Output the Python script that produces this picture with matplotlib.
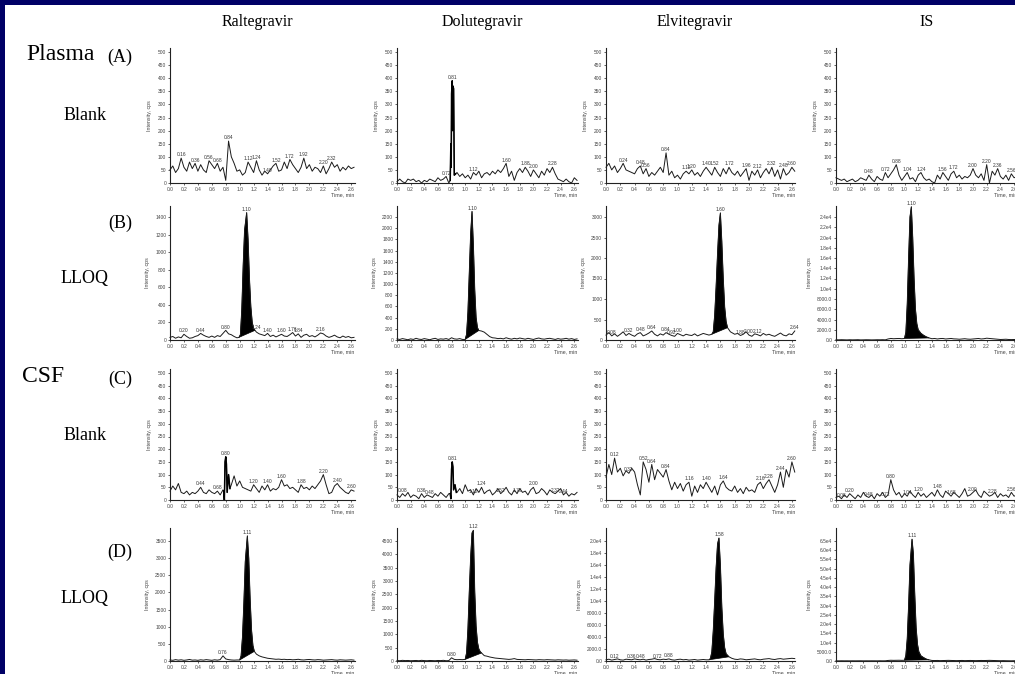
import numpy as np
import matplotlib
matplotlib.use("Agg")
import matplotlib.pyplot as plt
from matplotlib.patches import Rectangle

# ---------------- data ----------------
compounds = ["Raltegravir", "Dolutegravir", "Elvitegravir", "IS"]
row_codes = ["(A)", "(B)", "(C)", "(D)"]
row_samples = ["Blank", "LLOQ", "Blank", "LLOQ"]
matrices = ["Plasma", "CSF"]

grid_t = np.round(np.arange(0, 2.65, 0.04), 2)   # sampling times, min
x_ticks = [0.0, 0.2, 0.4, 0.6, 0.8, 1.0, 1.2, 1.4, 1.6, 1.8, 2.0, 2.2, 2.4, 2.6]

# Row A: plasma blank
A1_y = [50,65,40,55,95,60,45,80,55,75, 45,70,50,40,85,70,55,75,45,60,
        10,160,100,75,45,50,30,40,80,60, 40,85,50,30,45,35,50,65,75,45,
        50,80,55,90,70,55,40,60,95,55, 70,45,60,55,40,65,35,55,80,60,
        70,45,60,50,65,55,60]
A1_lab = [0.16, 0.36, 0.56, 0.68, 0.84, 1.12, 1.24, 1.40, 1.52, 1.72, 1.92, 2.20, 2.32]

A2_y = [5,15,5,0,15,10,15,5,10,0, 10,5,15,10,5,20,10,15,25,0,
        340,40,
        40,25,35,20,30,15,40,30, 45,20,35,40,30,45,35,50,40,55,
        75,25,45,10,40,55,40,60,45,25, 50,35,20,45,30,55,40,60,35,15,
        10,5,15,5,0,20,10]
A2_pk_t = [0.78, 0.79, 0.795, 0.80, 0.81, 0.815, 0.82, 0.83, 0.84, 0.86]
A2_pk_y = [10, 150, 60, 340, 390, 200, 370, 360, 30, 35]
A2_lab = [0.72, 0.81, 1.12, 1.60, 1.88, 2.00, 2.28]

A3_y = [60,75,50,65,40,55,75,50,45,40, 35,55,65,35,55,25,40,30,45,60,
        40,115,30,45,20,30,15,35,45,35, 50,30,40,25,45,60,45,30,60,40,
        25,55,35,60,40,30,45,25,40,55, 10,45,30,50,20,40,55,35,60,25,
        50,15,55,30,40,60,45]
A3_lab = [0.24, 0.48, 0.56, 0.84, 1.12, 1.20, 1.40, 1.52, 1.72, 1.96, 2.12, 2.32, 2.48, 2.60]

A4_y = [20,15,10,15,5,10,15,5,10,20, 15,10,30,15,5,25,15,10,40,20,
        35,50,70,30,10,25,40,15,20,5, 30,40,20,10,15,5,0,30,15,40,
        25,10,35,45,20,30,15,25,20,30, 55,30,20,35,10,70,0,45,30,55,
        25,15,30,10,35,20,25]
A4_lab = [0.48, 0.72, 0.88, 1.04, 1.24, 1.56, 1.72, 2.00, 2.20, 2.36, 2.56]

# Row B: plasma LLOQ
B1_y = [30,40,20,35,25,65,40,20,25,40, 50,75,55,40,30,45,30,50,40,75,
        110,70,60,40,25,
        30,900,1400,700,180,100,
        90,70,60,50,75,40,55,35,50,65, 45,40,60,85,45,70,30,55,65,40,
        50,35,55,80,70,45,30,40,55,35, 25,45,30,40,25,30]
B1_pk_t = [0.99, 1.01, 1.03, 1.05, 1.07, 1.10, 1.12, 1.14, 1.16, 1.18, 1.20, 1.22]
B1_pk_y = [30, 60, 350, 850, 1250, 1450, 1150, 700, 380, 200, 130, 110]
B1_lab = [0.20, 0.44, 0.80, 1.10, 1.24, 1.40, 1.60, 1.76, 1.84, 2.16]

B2_y = [20,10,25,15,5,20,10,30,15,10, 25,15,5,20,30,10,20,15,25,10,
        40,20,15,25,10,
        10,500,2300,900,220,170,160,140,100,60,40,
        35,25,30,20,40,25,15,30,20,35, 25,15,30,20,10,25,35,20,15,25,
        30,20,10,25,15,20,30,15,25,10,20]
B2_pk_t = [1.00, 1.02, 1.04, 1.06, 1.08, 1.10, 1.12, 1.14, 1.16, 1.18, 1.20, 1.24, 1.28, 1.32, 1.36, 1.40]
B2_pk_y = [10, 100, 500, 1200, 1900, 2300, 1700, 900, 400, 220, 170, 160, 140, 100, 60, 40]
B2_lab = [1.10]

B3_y = [120,180,100,150,90,140,200,110,160,120, 90,150,180,100,130,170,220,140,100,150,
        120,180,140,110,90,160,130,100,140,120, 110,150,100,130,160,140,120,
        150,1500,3000,1500,600,300,200,150,140,
        160,110,140,200,120,90,150,130,100,160, 120,140,110,90,130,170,120,100,150,130,220]
B3_pk_t = [1.48, 1.50, 1.52, 1.54, 1.56, 1.58, 1.60, 1.62, 1.64, 1.66, 1.68, 1.70, 1.74, 1.78]
B3_pk_y = [140, 200, 600, 1300, 2100, 2800, 3100, 2400, 1500, 800, 450, 300, 200, 160]
B3_lab = [0.08, 0.32, 0.48, 0.64, 0.84, 0.92, 1.00, 1.60, 1.88, 2.00, 2.12, 2.64]

B4_y = [50,30,60,40,20,50,30,40,60,20, 30,50,40,20,30,50,40,60,30,200,
        300,250,280,300,250,
        300,8000,26000,9000,3000,1500,900,600,400,300,
        250,300,200,280,300,200,250,300,220,200, 150,200,250,180,150,200,250,300,200,250,
        350,300,250,200,150,100,120,150,100,80,100,60]
B4_pk_t = [1.00, 1.02, 1.04, 1.06, 1.08, 1.10, 1.12, 1.14, 1.16, 1.18, 1.20, 1.24, 1.28, 1.32, 1.36]
B4_pk_y = [300, 1500, 7000, 16000, 24000, 26000, 20000, 12000, 6000, 3200, 2000, 1300, 900, 600, 400]
B4_lab = [1.10]

# Row C: CSF blank
C1_y = [35,55,40,65,30,25,35,20,30,25, 35,50,30,25,40,30,25,35,20,40,
        170,100,
        60,95,55,75,50,45,40,35,60,45, 30,55,40,60,35,45,40,50,80,55,
        60,45,50,40,30,60,45,50,40,55, 45,60,75,100,60,25,30,55,65,50,
        40,30,25,40,35]
C1_pk_t = [0.77, 0.78, 0.79, 0.80, 0.81, 0.82, 0.84, 0.86]
C1_pk_y = [35, 0, 150, 170, 140, 30, 100, 45]
C1_lab = [0.44, 0.68, 0.80, 1.20, 1.40, 1.60, 1.88, 2.20, 2.40, 2.60]

C2_y = [20,10,25,15,30,10,20,15,5,25, 10,20,15,10,25,15,30,20,10,25,
        150,40,
        30,45,25,60,35,40,20,45,30,50, 25,35,40,20,30,45,25,35,50,30,
        20,40,25,45,30,35,20,40,50,25, 30,45,35,20,40,30,25,35,45,20,
        30,15,25,20,30]
C2_pk_t = [0.78, 0.79, 0.80, 0.81, 0.82, 0.83, 0.85, 0.87]
C2_pk_y = [25, 5, 120, 150, 130, 40, 60, 30]
C2_lab = [0.08, 0.36, 0.48, 0.81, 1.12, 1.24, 1.52, 1.76, 2.00, 2.32, 2.44]

C3_y = [90,140,100,165,110,125,95,115,105,125, 110,60,20,150,120,70,140,80,120,105,
        90,120,75,40,70,45,65,35,60,70, 15,55,30,60,45,70,50,30,55,20,
        60,75,50,40,35,55,30,45,25,50, 35,40,30,60,70,45,65,80,55,30,
        60,110,50,120,90,150,110]
C3_lab = [0.12, 0.32, 0.52, 0.64, 0.84, 1.16, 1.40, 1.64, 2.16, 2.28, 2.44, 2.60]

C4_y = [10,15,5,20,10,25,15,5,20,10, 30,15,10,20,5,25,15,30,10,20,
        80,40,
        20,30,10,25,15,35,20,10, 30,15,25,10,20,30,15,40,20,10,
        35,25,15,30,20,10,25,45,15,20, 30,40,20,10,35,25,15,20,30,10,
        25,15,20,10,30,15,20]
C4_lab = [0.08, 0.20, 0.48, 0.72, 0.80, 1.04, 1.20, 1.48, 1.68, 2.00, 2.28, 2.56]

# Row D: CSF LLOQ
D1_y = [30,20,40,25,35,20,30,45,25,30, 20,35,25,40,30,20,35,25,40,150,
        60,40,30,25,30,
        30,1500,3700,1500,500,300,200,150,
        120,100,80,70,60,50,55,45,50,40, 45,35,40,50,35,30,40,45,35,30,
        40,35,25,30,35,40,30,25,35,30, 25,30,35,25]
D1_pk_t = [1.00, 1.02, 1.04, 1.06, 1.08, 1.11, 1.13, 1.15, 1.17, 1.19, 1.21, 1.24, 1.28]
D1_pk_y = [30, 150, 700, 1700, 2900, 3650, 3000, 1800, 900, 450, 280, 200, 150]
D1_lab = [0.76, 1.11]

D2_y = [20,10,25,15,20,10,15,20,10,25, 15,10,20,15,10,20,15,25,10,15,
        120,60,50,55,50,
        60,2500,4900,2000,600,300,250,200,
        180,150,130,110,100,90,80,70,60,70, 90,60,55,50,45,55,50,45,40,50,
        45,40,50,45,40,35,45,40,35,40, 30,35,40,30]
D2_pk_t = [1.00, 1.02, 1.04, 1.06, 1.08, 1.10, 1.12, 1.14, 1.16, 1.18, 1.20, 1.22, 1.24, 1.28]
D2_pk_y = [60, 300, 1200, 2600, 3900, 4800, 4900, 2600, 1300, 700, 450, 350, 300, 200]
D2_lab = [0.80, 1.12]

D3_y = [200,300,150,250,350,200,150,300,250,200, 350,250,200,300,150,250,300,400,250,200,
        300,250,350,200,150,250,300,200,250,150, 200,250,150,200,250,200,
        200,3000,20000,6000,1500,800,500,400,350,
        300,250,350,300,200,250,300,350,250,200, 300,350,400,300,250,350,400,300,350,400,450,400]
D3_pk_t = [1.44, 1.46, 1.48, 1.50, 1.52, 1.54, 1.56, 1.58, 1.60, 1.62, 1.64, 1.66, 1.68, 1.72, 1.76]
D3_pk_y = [200, 400, 1500, 5000, 10000, 15500, 19500, 20500, 16000, 9000, 4500, 2200, 1200, 700, 450]
D3_lab = [0.12, 0.36, 0.48, 0.72, 0.88, 1.58]

D4_y = [100,80,120,90,100,80,110,90,100,120, 80,100,90,110,100,80,120,90,100,300,
        400,350,380,400,350,
        400,12000,66000,18000,5000,2800,1800,1000,600,400,
        300,250,300,200,250,300,350,300,250,200, 250,300,200,250,300,250,200,250,300,250,
        300,350,300,250,200,150,200,150,120,100,150,100]
D4_pk_t = [1.00, 1.02, 1.04, 1.06, 1.08, 1.11, 1.13, 1.15, 1.17, 1.19, 1.21, 1.24, 1.28, 1.32, 1.36]
D4_pk_y = [400, 3000, 12000, 30000, 52000, 66000, 58000, 36000, 18000, 9000, 5000, 2800, 1800, 1000, 600]
D4_lab = [1.11]

# y-axis: (top tick value, tick step, label style)
y_axes = {
    (0, 0): (500, 50, "int"), (0, 1): (500, 50, "int"), (0, 2): (500, 50, "int"), (0, 3): (500, 50, "int"),
    (1, 0): (1400, 200, "int"), (1, 1): (2200, 200, "int"), (1, 2): (3000, 500, "int"), (1, 3): (24000, 2000, "sci"),
    (2, 0): (500, 50, "int"), (2, 1): (500, 50, "int"), (2, 2): (500, 50, "int"), (2, 3): (500, 50, "int"),
    (3, 0): (3500, 500, "int"), (3, 1): (4500, 500, "int"), (3, 2): (20000, 2000, "sci"), (3, 3): (65000, 5000, "sci"),
}

panels = {
    (0, 0): (A1_y, None, None, None, A1_lab),
    (0, 1): (A2_y, A2_pk_t, A2_pk_y, None, A2_lab),
    (0, 2): (A3_y, None, None, None, A3_lab),
    (0, 3): (A4_y, None, None, None, A4_lab),
    (1, 0): (B1_y, B1_pk_t, B1_pk_y, 1.22, B1_lab),
    (1, 1): (B2_y, B2_pk_t, B2_pk_y, 1.20, B2_lab),
    (1, 2): (B3_y, B3_pk_t, B3_pk_y, 1.70, B3_lab),
    (1, 3): (B4_y, B4_pk_t, B4_pk_y, 1.36, B4_lab),
    (2, 0): (C1_y, C1_pk_t, C1_pk_y, None, C1_lab),
    (2, 1): (C2_y, C2_pk_t, C2_pk_y, None, C2_lab),
    (2, 2): (C3_y, None, None, None, C3_lab),
    (2, 3): (C4_y, None, None, None, C4_lab),
    (3, 0): (D1_y, D1_pk_t, D1_pk_y, 1.21, D1_lab),
    (3, 1): (D2_y, D2_pk_t, D2_pk_y, 1.24, D2_lab),
    (3, 2): (D3_y, D3_pk_t, D3_pk_y, 1.72, D3_lab),
    (3, 3): (D4_y, D4_pk_t, D4_pk_y, 1.36, D4_lab),
}

# ---------------- layout (pixels) ----------------
W, H = 1015, 674
col_left = [170, 397, 606, 836]
col_ppm = [69.7, 68.2, 71.5, 68.5]
XMAX = 2.65
row_zero = [183, 340, 500, 661]
row_ttick = [52, 217, 373, 541]
row_top = [48, 206, 369, 528]

NAVY = "#000066"
TICK_FONT = "Liberation Sans"
SERIF = "Liberation Serif"
TS = 3.5


def build(base, pk_t, pk_y):
    t = grid_t.copy()
    y = np.asarray(base, float)
    if pk_t is not None:
        m = (t < pk_t[0]) | (t > pk_t[-1])
        t = np.concatenate([t[m], pk_t])
        y = np.concatenate([y[m], pk_y])
        o = np.argsort(t, kind="stable")
        t, y = t[o], y[o]
    return t, y


def ylab(v, style):
    if style == "sci" and v >= 10000:
        return "%.1fe4" % (v / 1e4)
    if style == "sci":
        return "%.1f" % v
    return "%d" % v


fig = plt.figure(figsize=(W / 100, H / 100), dpi=100, facecolor=NAVY)
fig.patches.append(Rectangle((5 / W, 0), 1, 1 - 5 / H, transform=fig.transFigure,
                             facecolor="white", edgecolor="none", zorder=-10))

for (r, c), (base, pk_t, pk_y, fill_end, labs) in panels.items():
    left = col_left[c] / W
    width = XMAX * col_ppm[c] / W
    bottom = 1 - row_zero[r] / H
    height = (row_zero[r] - row_top[r]) / H
    ax = fig.add_axes([left, bottom, width, height])
    ax.set_facecolor("none")
    top_tick, step, style = y_axes[(r, c)]
    ytop = top_tick * (row_zero[r] - row_top[r]) / (row_zero[r] - row_ttick[r])
    ax.set_xlim(0, XMAX)
    ax.set_ylim(0, ytop)

    t, y = build(base, pk_t, pk_y)
    ax.plot(t, y, color="#1a1a1a", lw=0.7, clip_on=False)
    if pk_t is not None and fill_end is not None:
        pt = np.asarray(pk_t)
        py = np.asarray(pk_y)
        sel = pt <= fill_end + 1e-9
        ax.fill(pt[sel], py[sel], color="black", lw=0.5, ec="black")
    elif pk_t is not None:
        ax.plot(pk_t, pk_y, color="black", lw=1.1)

    for lt in labs:
        near = np.abs(t - lt) <= 0.025
        yy = y[near].max() if near.any() else y[np.argmin(np.abs(t - lt))]
        ax.annotate("%.2f" % lt, xy=(lt, yy), xytext=(0, 0.6), textcoords="offset points",
                    ha="center", va="bottom", fontsize=TS, family=TICK_FONT, color="#333333")

    yt = list(np.arange(0, top_tick + step / 2, step))
    ax.set_yticks(yt)
    ax.set_yticklabels([ylab(v, style) for v in yt])
    ax.set_xticks(x_ticks)
    ax.set_xticklabels(["%.1f" % v for v in x_ticks])
    for s in ("top", "right"):
        ax.spines[s].set_visible(False)
    for s in ("left", "bottom"):
        ax.spines[s].set_linewidth(0.8)
        ax.spines[s].set_color("#222222")
    ax.tick_params(labelsize=TS, length=1.5, width=0.5, pad=1.2, colors="#222222",
                   labelcolor="#444444")
    for lab in ax.get_xticklabels() + ax.get_yticklabels():
        lab.set_family(TICK_FONT)
    ax.set_ylabel("Intensity, cps", fontsize=TS + 0.3, family=TICK_FONT, color="#444444", labelpad=4)
    ax.annotate("Time, min", xy=(1, 0), xycoords="axes fraction", xytext=(0, -8.5),
                textcoords="offset points", ha="right", va="center", fontsize=TS + 0.3,
                family=TICK_FONT, color="#444444")

# column headers
header_x = [257, 482, 695, 927]
for name, hx in zip(compounds, header_x):
    fig.text(hx / W, 1 - 22 / H, name, ha="center", va="center", fontsize=11.5, family=SERIF)

# row labels
fig.text(26 / W, 1 - 54 / H, matrices[0], ha="left", va="center", fontsize=17, family=SERIF)
fig.text(22 / W, 1 - 376 / H, matrices[1], ha="left", va="center", fontsize=17, family=SERIF)
code_y = [57, 223, 379, 552]
samp_y = [115, 279, 436, 599]
for i in range(4):
    fig.text(120 / W, 1 - code_y[i] / H, row_codes[i], ha="center", va="center", fontsize=13, family=SERIF)
    fig.text(85 / W, 1 - samp_y[i] / H, row_samples[i], ha="center", va="center", fontsize=13, family=SERIF)

fig.savefig("out.png", dpi=100, facecolor=fig.get_facecolor())
